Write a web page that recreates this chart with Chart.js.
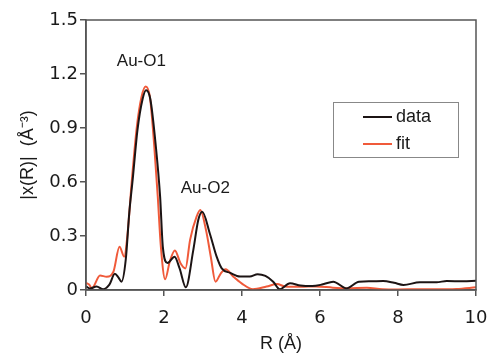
<!DOCTYPE html>
<html><head><meta charset="utf-8">
<script src="https://cdn.jsdelivr.net/npm/chart.js@4"></script>
<style>html,body{margin:0;padding:0;background:#fff}#wrap{width:488px;height:358px}</style>
</head><body><div id="wrap"><canvas id="c" width="488" height="358"></canvas></div>
<script>
// ---- data ----
const dataR = [0,0.1,0.27,0.44,0.6,0.74,0.83,0.91,1.02,1.11,1.2,1.32,1.45,1.54,1.65,1.79,1.9,1.97,2.09,2.27,2.4,2.56,2.75,2.88,2.98,3.18,3.35,3.48,3.7,3.95,4.2,4.4,4.6,4.8,4.97,5.23,5.5,5.8,6.05,6.34,6.68,7.0,7.3,7.62,7.9,8.14,8.56,8.99,9.25,9.67,10];
const dataY = [0.02,0.008,0.02,0.004,0.03,0.09,0.07,0.046,0.17,0.43,0.62,0.89,1.06,1.11,1.06,0.8,0.52,0.24,0.15,0.185,0.12,0.015,0.22,0.39,0.435,0.31,0.185,0.12,0.095,0.075,0.075,0.088,0.078,0.046,0.004,0.037,0.025,0.022,0.03,0.046,0.009,0.046,0.048,0.05,0.04,0.028,0.043,0.043,0.05,0.048,0.052];
const fitR = [0,0.08,0.15,0.36,0.53,0.7,0.86,0.98,1.06,1.18,1.3,1.42,1.53,1.64,1.75,1.84,1.92,2.03,2.15,2.28,2.42,2.55,2.67,2.84,2.93,3.08,3.2,3.32,3.45,3.58,3.78,3.99,4.28,4.63,4.9,5.1,5.5,5.9,6.33,6.7,7.2,7.6,8.0,8.5,9.0,9.5,10];
const fitY = [0.04,0.03,0.01,0.08,0.074,0.1,0.24,0.185,0.3,0.62,0.9,1.07,1.13,1.07,0.8,0.52,0.24,0.06,0.16,0.22,0.15,0.12,0.28,0.41,0.445,0.33,0.185,0.046,0.09,0.115,0.074,0.037,0.004,0.019,0.033,0.02,0.018,0.02,0.013,0.01,0.012,0.004,0.003,0.004,0.004,0.006,0.015];
const seriesNames = ['data','fit'];
const xTicks = [0,2,4,6,8,10];
const yTicks = [0,0.3,0.6,0.9,1.2,1.5];
const peakLabels = ['Au-O1','Au-O2'];
const peakLabelR = [1.42,3.06];
const peakLabelY = [1.27,0.567];

const FONT = '"Liberation Sans", Arial, sans-serif';
const TICKFONT = '"DejaVu Sans", sans-serif';
const colors = ['#1c1414','#f05a3a'];

const toPts = (xs, ys) => xs.map((x,i)=>({x:x,y:ys[i]}));

const extras = {
  id:'extras',
  afterDraw(chart){
    const ctx = chart.ctx, a = chart.chartArea;
    const xs = chart.scales.x, ys = chart.scales.y;
    ctx.save();
    // frame
    ctx.strokeStyle = '#555'; ctx.lineWidth = 1.5;
    ctx.strokeRect(a.left, a.top, a.right - a.left, a.bottom - a.top);
    // peak labels
    ctx.fillStyle = '#1a1a1a';
    ctx.font = '17px ' + FONT;
    ctx.textAlign = 'center'; ctx.textBaseline = 'middle';
    peakLabels.forEach((t,i)=>{
      ctx.fillText(t, xs.getPixelForValue(peakLabelR[i]), ys.getPixelForValue(peakLabelY[i]));
    });
    // legend box
    const bx = 333, by = 102, bw = 125, bh = 55;
    ctx.fillStyle = '#fff';
    ctx.fillRect(bx, by, bw, bh);
    ctx.strokeStyle = '#888'; ctx.lineWidth = 1;
    ctx.strokeRect(bx+0.5, by+0.5, bw, bh);
    ctx.font = '18px ' + FONT;
    chart.data.datasets.forEach((ds,i)=>{
      const yy = by + 15 + i*27;
      ctx.strokeStyle = ds.borderColor; ctx.lineWidth = 2;
      ctx.beginPath(); ctx.moveTo(363, yy); ctx.lineTo(392, yy); ctx.stroke();
      ctx.fillStyle = '#1a1a1a'; ctx.textAlign = 'left';
      ctx.fillText(ds.label, 396, yy);
    });
    ctx.restore();
  }
};

new Chart(document.getElementById('c'), {
  type: 'scatter',
  data: {
    datasets: [
      {label: seriesNames[0], data: toPts(dataR, dataY), borderColor: colors[0], showLine: true, pointRadius: 0, borderWidth: 2, cubicInterpolationMode: 'monotone', order: 1},
      {label: seriesNames[1], data: toPts(fitR, fitY), borderColor: colors[1], showLine: true, pointRadius: 0, borderWidth: 2, cubicInterpolationMode: 'monotone', order: 2}
    ]
  },
  options: {
    responsive: false,
    animation: false,
    layout: {padding: {left: 0, top: 20, right: 12, bottom: 0}},
    plugins: {legend: {display: false}, tooltip: {enabled: false}},
    scales: {
      x: {
        type: 'linear', min: 0, max: 10,
        afterBuildTicks: s => { s.ticks = xTicks.map(v=>({value:v})); },
        afterFit: s => { s.height = 68; s.paddingRight = 0; s.paddingLeft = 0; },
        grid: {drawOnChartArea: false, drawTicks: true, tickLength: 6, color: '#555', lineWidth: 1.5},
        border: {display: true, color: '#555', width: 1.5},
        ticks: {color: '#1a1a1a', font: {family: TICKFONT, size: 18}, padding: 12, maxRotation: 0},
        title: {display: true, text: 'R (Å)', color: '#1a1a1a', font: {family: FONT, size: 18}, padding: {top: 0, bottom: 3}}
      },
      y: {
        type: 'linear', min: 0, max: 1.5,
        afterBuildTicks: s => { s.ticks = yTicks.map(v=>({value:v})); },
        afterFit: s => { s.width = 86; s.paddingTop = 0; s.paddingBottom = 0; },
        grid: {drawOnChartArea: false, drawTicks: true, tickLength: 6, color: '#555', lineWidth: 1.5},
        border: {display: true, color: '#555', width: 1.5},
        ticks: {color: '#1a1a1a', font: {family: TICKFONT, size: 18}, padding: 2, callback: v => v === 0 ? '0' : v.toFixed(1)},
        title: {display: true, text: '|x(R)|  (Å⁻³)', color: '#1a1a1a', font: {family: FONT, size: 18}, padding: {top: 17, bottom: 0}}
      }
    }
  },
  plugins: [extras]
});
</script>
</body></html>
